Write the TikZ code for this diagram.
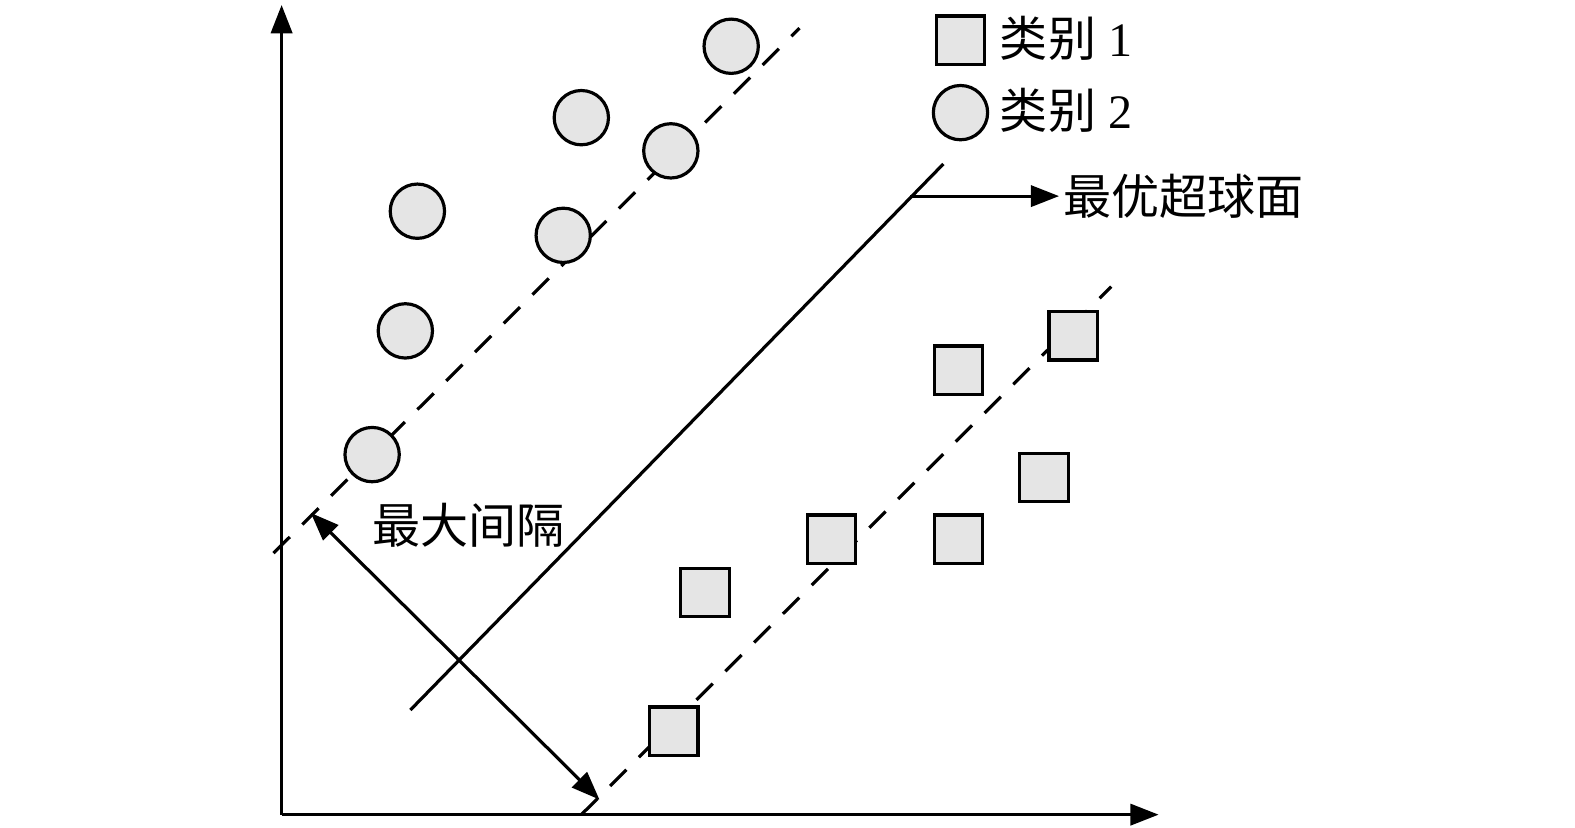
\documentclass[tikz,border=0pt]{standalone}
\usepackage{fontspec}
\setmainfont{Liberation Serif}
\newfontfamily\cjk{Noto Sans CJK SC}
\usetikzlibrary{arrows.meta,positioning}
\tikzset{
	circ/.style={circle,draw,fill=gray!20,minimum size=5.4mm,inner sep=0,line width=0.9pt},
	sq/.style={rectangle,draw,fill=gray!20,minimum size=4.8mm,inner sep=0,line width=0.9pt},
	axis/.style={-{Triangle[width=6pt,length=8pt]},line width=0.9pt},
	margin/.style={dash pattern=on 6.5pt off 5pt,line width=0.9pt},
	plane/.style={line width=0.9pt},
	dirarrow/.style={-{Triangle[width=6pt,length=8pt]},line width=0.9pt},
	dblarrow/.style={{Triangle[width=6pt,length=8pt]}-{Triangle[width=6pt,length=8pt]},line width=0.9pt},
	txt/.style={font=\fontsize{13.6}{15}\selectfont,inner sep=1pt}
}
\begin{document}
\begin{tikzpicture}[x=0.1mm,y=-0.1mm]
	\useasboundingbox (0,0) rectangle (1566,823);
	
	% axes
	\coordinate (O) at (280,810);
	\coordinate (Y) at (280,5);
	\coordinate (X) at (1152,810);
	\draw[axis] (O) -- (Y);
	\draw[axis] (O) -- (X);
	
	% margins and hyperplane
	\coordinate (M1a) at (272,550);
	\coordinate (M1b) at (795,28);
	\coordinate (M2a) at (578,810);
	\coordinate (M2b) at (1105,285);
	\draw[margin] (M1a) -- (M1b);
	\draw[margin] (M2a) -- (M2b);
	\coordinate (H1) at (408,706);
	\coordinate (H2) at (938,163);
	\draw[plane] (H1) -- (H2);
	
	% class 2
	\node[circ] (C1) at (727,46) {};
	\node[circ] (C2) at (578,117) {};
	\node[circ] (C3) at (667,150) {};
	\node[circ] (C4) at (415,210) {};
	\node[circ] (C5) at (560,234) {};
	\node[circ] (C6) at (403,329) {};
	\node[circ] (C7) at (370,452) {};
	
	% class 1
	\node[sq] (S1) at (1067,334) {};
	\node[sq] (S2) at (953,368) {};
	\node[sq] (S3) at (1038,475) {};
	\node[sq] (S4) at (827,536) {};
	\node[sq] (S5) at (953,536) {};
	\node[sq] (S6) at (701,589) {};
	\node[sq] (S7) at (670,727) {};
	
	% legend
	\node[sq] (L1) at (955,40) {};
	\node[circ] (L2) at (955,112) {};
	\node[txt,anchor=west] (T1) at (990,38) {{\cjk 类别} 1};
	\node[txt,anchor=west] (T2) at (990,110) {{\cjk 类别} 2};
	
	% labels
	\coordinate (P) at (905,195);
	\node[txt,anchor=west] (Opt) at (1053,195) {\cjk 最优超球面};
	\draw[dirarrow] (P) -- (Opt.west);
	\coordinate (G1) at (309,510);
	\coordinate (G2) at (596,795);
	\draw[dblarrow] (G1) -- (G2);
	\node[txt] (Gap) at (466,522) {\cjk 最大间隔};
\end{tikzpicture}
\end{document}
